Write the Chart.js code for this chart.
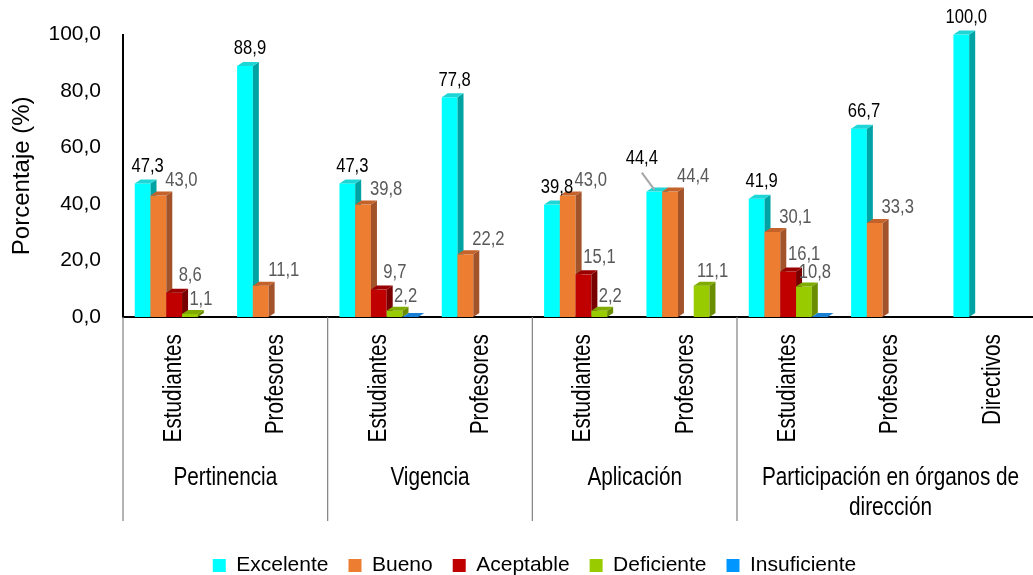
<!DOCTYPE html>
<html lang="es">
<head>
<meta charset="utf-8" />
<title>Porcentaje por criterio</title>
<script src="https://cdn.jsdelivr.net/npm/chart.js"></script>
<style>
  html, body { margin: 0; padding: 0; background: #fff; }
</style>
</head>
<body>
<canvas id="chart" width="1033" height="575"></canvas>
<script>
// etiquetas del eje x (dos niveles)
const subLabels = ["Estudiantes", "Profesores", "Estudiantes", "Profesores", "Estudiantes", "Profesores", "Estudiantes", "Profesores", "Directivos"];
const groupNames = ["Pertinencia", "Vigencia", "Aplicación", ["Participación en órganos de", "dirección"]];
const groupSizes = [2, 2, 2, 3];
const yTicks = [0, 20, 40, 60, 80, 100];

// valores (%)
const excelente = [47.3, 88.9, 47.3, 77.8, 39.8, 44.4, 41.9, 66.7, 100.0];
const bueno = [43.0, 11.1, 39.8, 22.2, 43.0, 44.4, 30.1, 33.3, null];
const aceptable = [8.6, null, 9.7, null, 15.1, null, 16.1, null, null];
const deficiente = [1.1, null, 2.2, null, 2.2, 11.1, 10.8, null, null];
const insuficiente = [null, null, 0, null, null, null, 0, null, null];

const FONT = "'Liberation Sans', Arial, sans-serif";
const NARROW = 0.83; // la fuente original es estrecha
const fmt = (v) => v.toFixed(1).replace(".", ",");

// etiqueta desplazada con línea guía (Aplicación / Profesores, Excelente)
const nudges = { "0:5": { dx: -12.5, dy: -33, leader: true } };

function narrowText(ctx, t, x, y, rot) {
  ctx.save();
  ctx.translate(x, y);
  if (rot) ctx.rotate(rot);
  ctx.scale(NARROW, 1);
  ctx.fillText(t, 0, 0);
  ctx.restore();
}

// barras con efecto 3D, dibujadas de izquierda a derecha
const bars3d = {
  id: "bars3d",
  afterLayout(chart) {
    // el área original sigue un poco más allá del borde derecho
    const xs = chart.scales.x;
    const extra = 11;
    xs.right += extra;
    xs.width += extra;
    xs.configure();
    chart.chartArea.right += extra;
    chart.chartArea.width += extra;
    // leyenda más abajo y algo a la derecha
    const lg = chart.legend;
    lg.top += 11; lg.bottom += 11;
    lg.left += 18; lg.right += 18;
  },
  beforeDatasetsDraw(chart) {
    const ctx = chart.ctx;
    const dx = 6, dy = 4;
    ctx.save();
    for (let i = 0; i < chart.data.datasets.length; i++) {
      const ds = chart.data.datasets[i];
      const meta = chart.getDatasetMeta(i);
      meta.data.forEach((el, j) => {
        if (ds.data[j] == null) return;
        const { x, y, base, width } = el.getProps(["x", "y", "base", "width"], true);
        const l = x - width / 2, r = x + width / 2;
        ctx.fillStyle = ds.backgroundColor;
        ctx.fillRect(l, y, width, base - y);
        ctx.fillStyle = ds.sideColor;
        ctx.beginPath();
        ctx.moveTo(r, y); ctx.lineTo(r + dx, y - dy); ctx.lineTo(r + dx, base - dy); ctx.lineTo(r, base);
        ctx.closePath(); ctx.fill();
        ctx.fillStyle = ds.topColor;
        ctx.beginPath();
        ctx.moveTo(l, y); ctx.lineTo(l + dx, y - dy); ctx.lineTo(r + dx, y - dy); ctx.lineTo(r, y);
        ctx.closePath(); ctx.fill();
      });
    }
    // etiquetas de datos
    ctx.font = "20px " + FONT;
    ctx.textAlign = "center";
    ctx.textBaseline = "middle";
    for (let i = 0; i < chart.data.datasets.length; i++) {
      const ds = chart.data.datasets[i];
      const meta = chart.getDatasetMeta(i);
      meta.data.forEach((el, j) => {
        const v = ds.data[j];
        if (v == null || v === 0) return;
        const n = nudges[i + ":" + j];
        const lx = el.x + (n ? n.dx : ds.labelDx);
        const ly = el.y + (n ? n.dy : ds.labelDy);
        if (n && n.leader) {
          ctx.strokeStyle = "#a6a6a6";
          ctx.lineWidth = 2;
          ctx.beginPath();
          ctx.moveTo(lx, ly + 14);
          ctx.lineTo(el.x, el.y - 2);
          ctx.stroke();
        }
        ctx.fillStyle = ds.labelColor;
        narrowText(ctx, fmt(v), lx, ly);
      });
    }
    ctx.restore();
    return false;
  },
  afterDraw(chart) {
    const ctx = chart.ctx;
    const xs = chart.scales.x;
    const area = chart.chartArea;
    ctx.save();
    // separadores de grupo
    ctx.strokeStyle = "#808080";
    ctx.lineWidth = 1.2;
    let k = 0;
    const bounds = [area.left];
    groupSizes.forEach((s) => {
      k += s;
      if (k < subLabels.length) bounds.push((xs.getPixelForValue(k - 1) + xs.getPixelForValue(k)) / 2);
    });
    bounds.forEach((bx) => {
      ctx.beginPath();
      ctx.moveTo(bx, area.bottom);
      ctx.lineTo(bx, area.bottom + 204);
      ctx.stroke();
    });
    // etiquetas verticales
    ctx.fillStyle = "#000";
    ctx.font = "25px " + FONT;
    ctx.textAlign = "right";
    ctx.textBaseline = "middle";
    subLabels.forEach((t, i) => {
      ctx.save();
      ctx.translate(xs.getPixelForValue(i), area.bottom + 17);
      ctx.rotate(-Math.PI / 2);
      ctx.scale(NARROW, 1);
      ctx.fillText(t, 0, 0);
      ctx.restore();
    });
    // nombres de grupo
    ctx.textAlign = "center";
    k = 0;
    groupNames.forEach((g, gi) => {
      const first = k, last = k + groupSizes[gi] - 1;
      k += groupSizes[gi];
      const cx = (xs.getPixelForValue(first) + xs.getPixelForValue(last)) / 2;
      const lines = Array.isArray(g) ? g : [g];
      lines.forEach((t, li) => narrowText(ctx, t, cx, area.bottom + 161 + li * 30));
    });
    ctx.restore();
  }
};

new Chart(document.getElementById("chart"), {
  type: "bar",
  data: {
    labels: subLabels,
    datasets: [
      { label: "Excelente", data: excelente, backgroundColor: "#00ffff", sideColor: "#00a3a3", topColor: "#1fd6d6", labelColor: "#000", labelDx: 5, labelDy: -17 },
      { label: "Bueno", data: bueno, backgroundColor: "#ed7d31", sideColor: "#a3532a", topColor: "#c4622b", labelColor: "#595959", labelDx: 23, labelDy: -15 },
      { label: "Aceptable", data: aceptable, backgroundColor: "#c00000", sideColor: "#780000", topColor: "#9a0000", labelColor: "#595959", labelDx: 16, labelDy: -17 },
      { label: "Deficiente", data: deficiente, backgroundColor: "#99cc00", sideColor: "#6a8e00", topColor: "#80ab00", labelColor: "#595959", labelDx: 11, labelDy: -14 },
      { label: "Insuficiente", data: insuficiente, backgroundColor: "#0096ff", sideColor: "#0064b0", topColor: "#1a80d6", labelColor: "#595959", labelDx: 8, labelDy: -14 }
    ]
  },
  options: {
    responsive: false,
    animation: false,
    categoryPercentage: 0.77,
    barPercentage: 1.0,
    layout: { padding: { top: 34, right: 0, left: 0, bottom: 0 } },
    scales: {
      x: {
        grid: { display: false },
        border: { display: true, color: "#000", width: 2 },
        ticks: { display: false },
        afterFit: (scale) => { scale.height = 207; }
      },
      y: {
        min: 0,
        max: 100,
        afterBuildTicks: (scale) => { scale.ticks = yTicks.map((v) => ({ value: v })); },
        grid: { display: false, drawTicks: false },
        border: { display: true, color: "#000", width: 2 },
        ticks: { color: "#000", font: { family: FONT, size: 21 }, padding: 22, callback: (v) => fmt(v) },
        title: { display: true, text: "Porcentaje (%)", color: "#000", font: { family: FONT, size: 24 }, padding: { top: 8, bottom: 0 } },
        afterFit: (scale) => { scale.width = 123; }
      }
    },
    plugins: {
      legend: {
        position: "bottom",
        labels: { color: "#000", font: { family: FONT, size: 21 }, boxWidth: 13, boxHeight: 13, padding: 20 }
      },
      tooltip: { enabled: false }
    }
  },
  plugins: [bars3d]
});
</script>
</body>
</html>
